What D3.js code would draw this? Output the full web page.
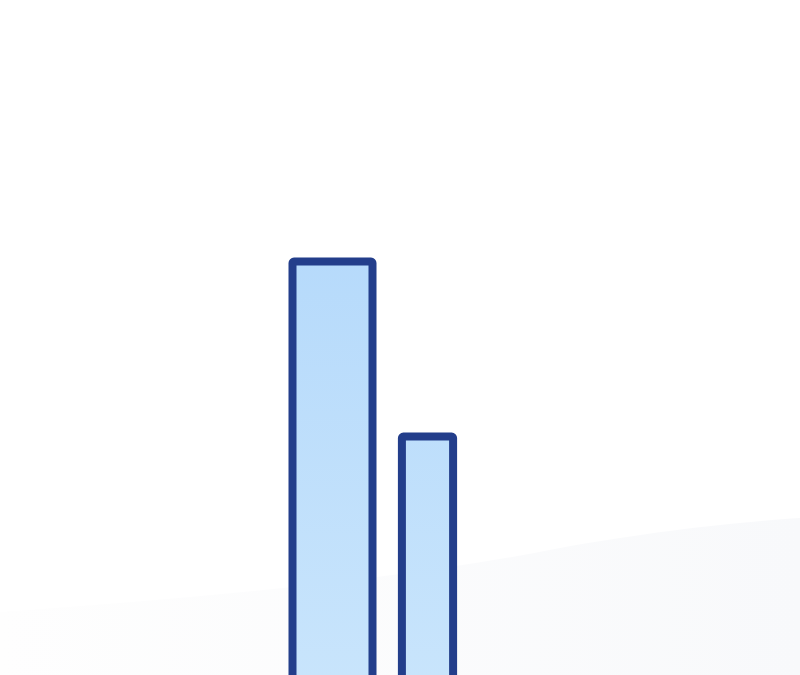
<!DOCTYPE html>
<html>
<head>
<meta charset="utf-8">
<script src="https://cdn.jsdelivr.net/npm/d3@7"></script>
<style>
  html, body { margin: 0; padding: 0; background: #fff; overflow: hidden; }
</style>
</head>
<body>
<script>
// two bars, both run off the bottom of the frame
var categories = ["A", "B"],
    values = [80, 54],
    weights = [5, 3.2];

var width = 800, height = 675;

var svg = d3.select("body").append("svg")
    .attr("width", width)
    .attr("height", height);

var defs = svg.append("defs");

var fillGrad = defs.append("linearGradient")
    .attr("id", "barFill")
    .attr("gradientUnits", "userSpaceOnUse")
    .attr("x1", 0).attr("y1", 250).attr("x2", 0).attr("y2", 700);
fillGrad.append("stop").attr("offset", "0%").attr("stop-color", "#b6dafb");
fillGrad.append("stop").attr("offset", "100%").attr("stop-color", "#c9e5fc");

var bgGrad = defs.append("linearGradient")
    .attr("id", "bgFill")
    .attr("x1", 0).attr("y1", 0).attr("x2", 1).attr("y2", 0);
bgGrad.append("stop").attr("offset", "0%").attr("stop-color", "#fefefe");
bgGrad.append("stop").attr("offset", "100%").attr("stop-color", "#f8f9fb");

// faint floor behind the bars
svg.append("path")
    .attr("d", "M0,612 C200,598 400,580 560,548 C660,530 740,522 800,518 L800,675 L0,675 Z")
    .attr("fill", "url(#bgFill)");

// scales
var xScale = d3.scaleBand().domain(categories).range([285, 475]).padding(0);
var wScale = d3.scaleLinear().domain([0, 5]).range([0, 80]);
var yScale = d3.scaleLinear().domain([0, 100]).range([800, 127]);

svg.selectAll("rect.bar")
    .data(categories)
    .enter().append("rect")
    .attr("class", "bar")
    .attr("x", function (d, i) { return xScale(d) + xScale.bandwidth() / 2 - wScale(weights[i]) / 2; })
    .attr("width", function (d, i) { return wScale(weights[i]); })
    .attr("y", function (d, i) { return yScale(values[i]); })
    .attr("height", function (d, i) { return yScale(0) - yScale(values[i]); })
    .attr("rx", 1.5)
    .attr("fill", "url(#barFill)")
    .attr("stroke", "#233e8b")
    .attr("stroke-width", 8)
    .attr("stroke-linejoin", "round");
</script>
</body>
</html>
